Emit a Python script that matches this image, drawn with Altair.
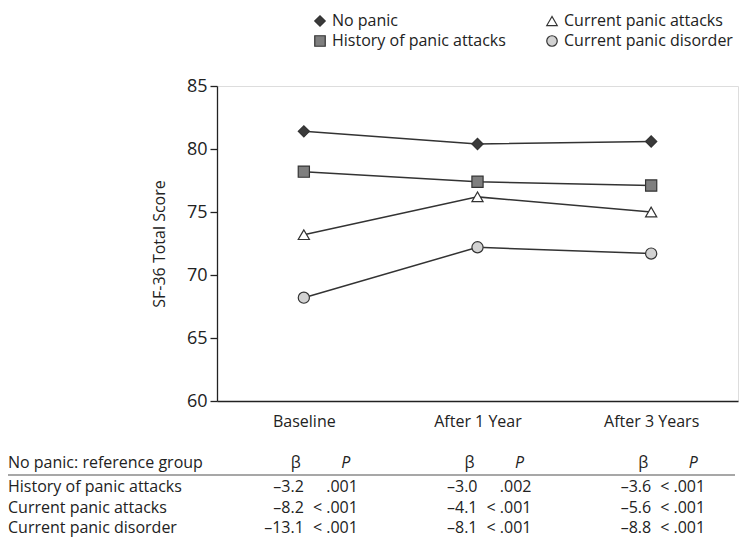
import altair as alt
import pandas as pd

# ---- data ----
times = ["Baseline", "After 1 Year", "After 3 Years"]
groups = ["No panic", "History of panic attacks", "Current panic attacks", "Current panic disorder"]
no_panic = [81.4, 80.4, 80.6]
history_attacks = [78.2, 77.4, 77.1]
current_attacks = [73.2, 76.2, 75.0]
current_disorder = [68.2, 72.2, 71.7]

table_groups = ["History of panic attacks", "Current panic attacks", "Current panic disorder"]
beta_baseline = [-3.2, -8.2, -13.1]
p_baseline = [".001", "< .001", "< .001"]
beta_1yr = [-3.0, -4.1, -8.1]
p_1yr = [".002", "< .001", "< .001"]
beta_3yr = [-3.6, -5.6, -8.8]
p_3yr = ["< .001", "< .001", "< .001"]

shapes = ["diamond", "square", "triangle-up", "circle"]
fills = ["#3a3a3a", "#7f7f7f", "#ffffff", "#d2d2d2"]

series = [no_panic, history_attacks, current_attacks, current_disorder]
rows = []
for g, vals in zip(groups, series):
    for t, v in zip(times, vals):
        rows.append({"time": t, "group": g, "score": v})
df = pd.DataFrame(rows)

trows = []
for t, betas, ps in zip(times, [beta_baseline, beta_1yr, beta_3yr], [p_baseline, p_1yr, p_3yr]):
    for g, b, p in zip(table_groups, betas, ps):
        trows.append({"time": t, "group": g, "beta": f"{b:.1f}".replace("-", "\u2013"), "p": p})
tdf = pd.DataFrame(trows)
hdf = pd.DataFrame({"time": times, "b": ["\u03b2"] * 3, "p": ["P"] * 3})
hdr_df = pd.DataFrame({"label": ["No panic: reference group"]})
lab_df = pd.DataFrame({"group": table_groups})

FONT = "Open Sans"
TXT = "#222222"
FS = 16

x_enc = alt.X("time:O", sort=times, scale=alt.Scale(type="point", padding=0.5, domain=times),
              axis=alt.Axis(title=None, labelAngle=0, ticks=False, labelPadding=12,
                            labelFontSize=FS, labelColor=TXT, domainColor=TXT, domainWidth=1.3))

y_enc = alt.Y("score:Q", scale=alt.Scale(domain=[60, 85], nice=False, zero=False),
              axis=alt.Axis(values=[60, 65, 70, 75, 80, 85], tickSize=7, labelPadding=3,
                            labelFontSize=18, labelColor=TXT, tickColor=TXT, domainColor=TXT,
                            domainWidth=1.3, tickWidth=1.3, grid=False,
                            title="SF-36 Total Score", titleFontSize=FS, titleFontWeight="normal",
                            titleColor=TXT, titlePadding=19))

lines = alt.Chart(df).mark_line(color="#333333", strokeWidth=1.5).encode(
    x=x_enc, y=y_enc, detail="group:N")

points = alt.Chart(df).mark_point(filled=True, strokeWidth=1.2, size=125, opacity=1).encode(
    x=x_enc, y=y_enc,
    shape=alt.Shape("group:N", scale=alt.Scale(domain=groups, range=shapes), legend=alt.Legend(title=None)),
    fill=alt.Fill("group:N", scale=alt.Scale(domain=groups, range=fills), legend=alt.Legend(title=None)),
    stroke=alt.Stroke("group:N", scale=alt.Scale(domain=groups, range=["#333333"] * 4),
                      legend=alt.Legend(title=None)),
)

main = alt.layer(lines, points)

ty = alt.Y("group:N", scale=alt.Scale(type="point", domain=table_groups, range=[401, 442], padding=0), axis=None)

sep = alt.Chart(pd.DataFrame({"a": [0]})).mark_rule(color="#8a8a8a", strokeWidth=1.3).encode(
    x=alt.value(-209), x2=alt.value(518), y=alt.value(389))

left_hdr = alt.Chart(hdr_df).mark_text(align="left", baseline="middle", font=FONT, fontSize=FS, color=TXT).encode(
    x=alt.value(-209), y=alt.value(377), text="label:N")
left_rows = alt.Chart(lab_df).mark_text(align="left", baseline="middle", font=FONT, fontSize=FS, color=TXT).encode(
    x=alt.value(-209), y=ty, text="group:N")

b_hdr = alt.Chart(hdf).mark_text(align="center", baseline="middle", font=FONT, fontSize=FS, color=TXT, dx=-8).encode(
    x=x_enc, y=alt.value(377), text="b:N")
p_hdr = alt.Chart(hdf).mark_text(align="center", baseline="middle", font=FONT, fontSize=FS, fontStyle="italic",
                                 color=TXT, dx=42).encode(
    x=x_enc, y=alt.value(377), text="p:N")

b_vals = alt.Chart(tdf).mark_text(align="right", baseline="middle", font=FONT, fontSize=FS, color=TXT, dx=0).encode(
    x=x_enc, y=ty, text="beta:N")
p_vals = alt.Chart(tdf).mark_text(align="right", baseline="middle", font=FONT, fontSize=FS, color=TXT, dx=54).encode(
    x=x_enc, y=ty, text="p:N")

table = alt.layer(sep, left_hdr, left_rows, b_hdr, p_hdr, b_vals, p_vals)

chart = alt.layer(main, table).resolve_scale(y="independent").properties(
    width=521, height=315,
    autosize=alt.AutoSizeParams(type="none"),
    padding={"left": 209, "top": 78, "right": 10, "bottom": 140},
).configure_view(stroke=None).configure(font=FONT).configure_legend(
    orient="none", legendX=95, legendY=-73, columns=2, columnPadding=38, rowPadding=4,
    labelFont=FONT, labelFontSize=FS, labelColor=TXT, symbolSize=110, labelOffset=4,
    labelLimit=400, symbolStrokeWidth=1.2,
)

chart.save("out.html", embed_options={"renderer": "svg", "actions": False})
